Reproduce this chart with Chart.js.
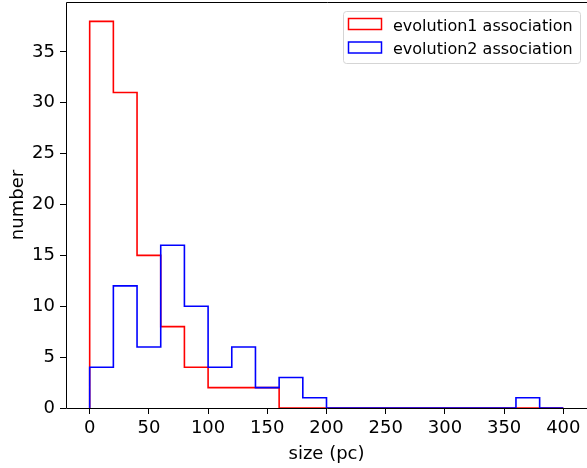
<!DOCTYPE html>
<html lang="en">
<head>
<meta charset="UTF-8">
<title>size histogram</title>
<style>
  body { margin: 0; background: white; }
  #wrap { width: 587px; height: 468px; }
</style>
</head>
<body>
<div id="wrap"><canvas id="histChart"></canvas></div>
<script src="https://cdn.jsdelivr.net/npm/chart.js"></script>
<script>
  const binEdges = [0, 20, 40, 60, 80, 100, 120, 140, 160, 180, 200, 220, 240, 260, 280, 300, 320, 340, 360, 380, 400];
  const evo1Counts = [38, 31, 15, 8, 4, 2, 2, 2, 0, 0, 0, 0, 0, 0, 0, 0, 0, 0, 0, 0];
  const evo2Counts = [4, 12, 6, 16, 10, 4, 6, 2, 3, 1, 0, 0, 0, 0, 0, 0, 0, 0, 1, 0];
  const seriesNames = ['evolution1 association', 'evolution2 association'];
  const seriesColors = ['#ff0000', '#0000ff'];
  const xTicks = [0, 50, 100, 150, 200, 250, 300, 350, 400];
  const yTicks = [0, 5, 10, 15, 20, 25, 30, 35];

  // outline of a step histogram: up at first edge, flat over each bin, down at the last edge
  function stepPoints(counts) {
    const pts = [{ x: binEdges[0], y: 0 }];
    counts.forEach((c, i) => pts.push({ x: binEdges[i], y: c }));
    pts.push({ x: binEdges[binEdges.length - 1], y: 0 });
    return pts;
  }

  const FONT = 'DejaVu Sans';

  const frameAndLegend = {
    id: 'frameAndLegend',
    afterDatasetsDraw(chart) {
      const ctx = chart.ctx;
      const a = chart.chartArea;
      const l = Math.round(a.left) + 0.5, t = Math.round(a.top) + 0.5, b = Math.round(a.bottom) + 0.5;
      ctx.save();
      ctx.strokeStyle = '#000';
      ctx.lineWidth = 1;
      // left, top and bottom spines; the right one is cut off in the original
      ctx.beginPath();
      ctx.moveTo(chart.width + 2, t);
      ctx.lineTo(l, t);
      ctx.lineTo(l, b);
      ctx.lineTo(chart.width + 2, b);
      ctx.stroke();

      // legend box, upper right inside the axes
      const bx = 343.5, by = 11.5, bw = 237, bh = 52, r = 3;
      ctx.beginPath();
      ctx.moveTo(bx + r, by);
      ctx.arcTo(bx + bw, by, bx + bw, by + bh, r);
      ctx.arcTo(bx + bw, by + bh, bx, by + bh, r);
      ctx.arcTo(bx, by + bh, bx, by, r);
      ctx.arcTo(bx, by, bx + bw, by, r);
      ctx.closePath();
      ctx.fillStyle = 'rgba(255,255,255,0.8)';
      ctx.fill();
      ctx.strokeStyle = '#d5d5d5';
      ctx.stroke();

      ctx.font = '16px "' + FONT + '"';
      ctx.textBaseline = 'alphabetic';
      ctx.textAlign = 'left';
      chart.data.datasets.forEach((ds, i) => {
        const py = 18.5 + i * 23.5;
        ctx.strokeStyle = ds.borderColor;
        ctx.lineWidth = 1.5;
        ctx.strokeRect(348.5, py, 33, 11);
        ctx.fillStyle = '#000';
        ctx.fillText(ds.label, 393, 30.5 + i * 23.5);
      });
      ctx.restore();
    }
  };

  const ctx = document.getElementById('histChart').getContext('2d');
  new Chart(ctx, {
    type: 'line',
    data: {
      datasets: [
        {
          label: seriesNames[0],
          data: stepPoints(evo1Counts),
          borderColor: seriesColors[0],
          borderWidth: 1.6,
          stepped: true,
          pointRadius: 0,
          fill: false,
          order: 1
        },
        {
          label: seriesNames[1],
          data: stepPoints(evo2Counts),
          borderColor: seriesColors[1],
          borderWidth: 1.6,
          stepped: true,
          pointRadius: 0,
          fill: false,
          order: 0
        }
      ]
    },
    options: {
      responsive: true,
      maintainAspectRatio: false,
      animation: false,
      layout: { padding: { top: 2, right: 0, bottom: 0, left: 0 } },
      plugins: {
        legend: { display: false },
        tooltip: { enabled: false }
      },
      scales: {
        x: {
          type: 'linear',
          min: -20,
          max: 420,
          afterBuildTicks: (scale) => { scale.ticks = xTicks.map(v => ({ value: v })); },
          afterFit: (scale) => {
            scale.height = 60;
            scale.paddingLeft = 0;
            scale.paddingRight = 0;
          },
          border: { display: false },
          grid: { drawOnChartArea: false, drawTicks: true, tickLength: 6, tickColor: '#000' },
          ticks: { color: '#000', padding: 4, font: { family: FONT, size: 18 }, maxRotation: 0 },
          title: { display: true, text: 'size (pc)', color: '#000', font: { family: FONT, size: 18 }, padding: { top: 2, bottom: 3 } }
        },
        y: {
          min: 0,
          max: 39.9,
          afterBuildTicks: (scale) => { scale.ticks = yTicks.map(v => ({ value: v })); },
          afterFit: (scale) => {
            scale.width = 66;
            scale.paddingTop = 0;
            scale.paddingBottom = 0;
          },
          border: { display: false },
          grid: { drawOnChartArea: false, drawTicks: true, tickLength: 6, tickColor: '#000' },
          ticks: { color: '#000', padding: 5, font: { family: FONT, size: 18 } },
          title: { display: true, text: 'number', color: '#000', font: { family: FONT, size: 18 }, padding: { top: 8, bottom: 2 } }
        }
      }
    },
    plugins: [frameAndLegend]
  });
</script>
</body>
</html>
